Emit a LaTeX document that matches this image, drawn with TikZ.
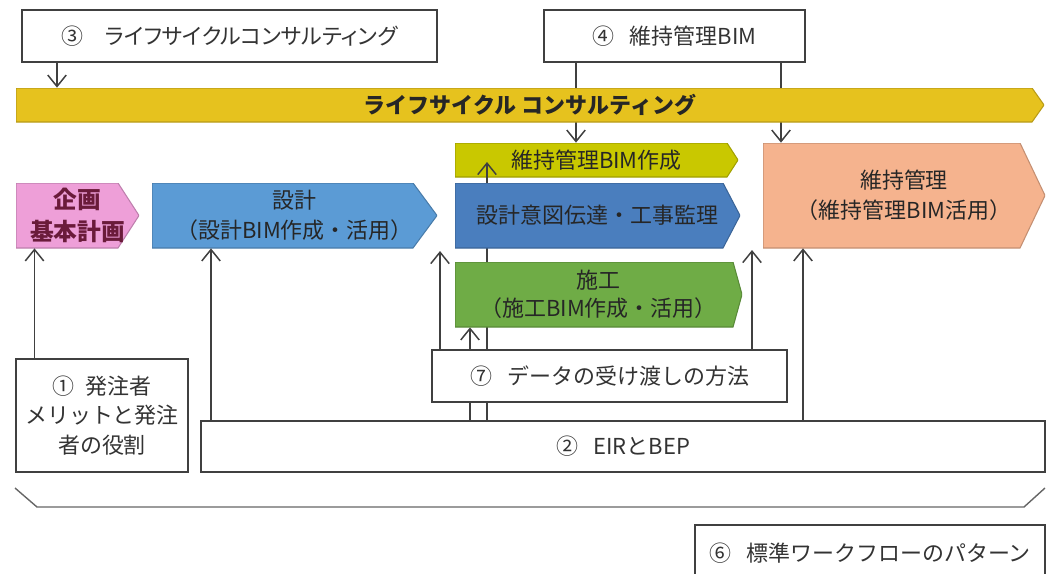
\documentclass[tikz,border=0pt]{standalone}
\usepackage{fontspec}
\setmainfont{Noto Sans CJK JP}
\newfontfamily\proporcional[RawFeature=+palt]{Noto Sans CJK JP}
\usetikzlibrary{arrows.meta}
\pgfdeclarelayer{fundo}
\pgfsetlayers{fundo,main}

\definecolor{amarelo}{HTML}{E6C21E}
\definecolor{oliva}{HTML}{C9C800}
\definecolor{rosa}{HTML}{EE9FD8}
\definecolor{azul}{HTML}{5B9BD5}
\definecolor{azulesc}{HTML}{4A7EBE}
\definecolor{verde}{HTML}{6FAC46}
\definecolor{salmao}{HTML}{F5B38E}
\definecolor{texto}{HTML}{333333}
\definecolor{borda}{HTML}{404040}
\definecolor{vinho}{HTML}{6A1B3A}

\begin{document}
\begin{tikzpicture}[
		caixa/.style={draw=borda, line width=1pt, fill=white, text=texto, align=center, inner sep=0pt},
		fase/.style 2 args={align=center, inner sep=0pt, text=black!85,
			path picture={\draw[draw=#1!80!black, fill=#1, line width=0.6pt]
				(path picture bounding box.north west) -- ([xshift=-#2]path picture bounding box.north east)
				-- (path picture bounding box.east) -- ([xshift=-#2]path picture bounding box.south east)
				-- (path picture bounding box.south west) -- cycle;}},
		seta/.style={draw=borda, line width=0.85pt, -{Straight Barb[length=6.5pt,width=10.5pt]}},
		linha/.style={draw=borda, line width=0.85pt},
		font=\fontsize{12.5}{17}\selectfont
	]
		\path[use as bounding box, clip] (0,0) rectangle (21.14,-11.46);

		% Caixas de cima
		\node[caixa, minimum width=8.3cm, minimum height=1.04cm] (c3) at (4.59,-0.72) {\proporcional ③\hspace{1em}ライフサイクルコンサルティング};
		\node[caixa, minimum width=5.22cm, minimum height=1.04cm] (c4) at (13.49,-0.72) {④\hspace{.7em}維持管理BIM};

		% Faixa amarela
		\node[fase={amarelo}{0.24cm}, minimum width=20.56cm, minimum height=0.68cm, font=\fontsize{12.5}{17}\selectfont\bfseries] (lc) at (10.6,-2.1) {ライフサイクル コンサルティング};

		% Fases
		\node[fase={rosa}{0.42cm}, minimum width=2.46cm, minimum height=1.3cm, text=vinho, font=\fontsize{13.5}{18}\selectfont\bfseries] (pk) at (1.55,-4.31) {企画\\基本計画};
		\node[fase={azul}{0.48cm}, minimum width=5.7cm, minimum height=1.3cm] (sk) at (5.89,-4.31) {設計\\（設計BIM作成・活用）};
		\node[fase={oliva}{0.22cm}, minimum width=5.66cm, minimum height=0.68cm] (mb) at (11.93,-3.2) {維持管理BIM作成};
		\node[fase={azulesc}{0.34cm}, minimum width=5.7cm, minimum height=1.3cm] (ki) at (11.95,-4.31) {設計意図伝達・工事監理};
		\node[fase={verde}{0.18cm}, minimum width=5.74cm, minimum height=1.3cm, font=\fontsize{12.5}{16}\selectfont] (sg) at (11.97,-5.89) {施工\\（施工BIM作成・活用）};
		\node[fase={salmao}{0.5cm}, minimum width=5.64cm, minimum height=2.1cm] (mt) at (18.08,-3.91) {維持管理\\（維持管理BIM活用）};

		% Caixas de baixo
		\node[caixa, minimum width=7.1cm, minimum height=1.04cm] (c7) at (12.19,-7.52) {⑦\hspace{.7em}データの受け渡しの方法};
		\node[caixa, minimum width=3.44cm, minimum height=2.26cm] (c1) at (2.04,-8.31) {①\hspace{.5em}発注者\\メリットと発注\\者の役割};
		\node[caixa, minimum width=16.88cm, minimum height=1.02cm] (c2) at (12.46,-8.93) {②\hspace{.7em}EIRとBEP};
		\node[caixa, minimum width=7cm, minimum height=1.12cm] (c6) at (17.4,-11.06) {⑥\hspace{.7em}標準ワークフローのパターン};

		% Pontos para as setas
		\coordinate (xa) at (0.69,0);
		\coordinate (xb) at (1.14,0);
		\coordinate (xc) at (4.22,0);
		\coordinate (xd) at (9.4,0);
		\coordinate (xe) at (9.74,0);
		\coordinate (xf) at (11.52,0);
		\coordinate (xg) at (15.62,0);
		\coordinate (xh) at (16.06,0);
		\coordinate (p1) at (8.8,-5.02);
		\coordinate (p2) at (15.04,-5.0);
		\coordinate (p3) at (9.74,-3.24);

		% Setas
		\draw[seta] (c3.south -| xb) -- (lc.north -| xb);
		\draw[seta] (c1.north -| xa) -- (pk.south -| xa);
		\draw[seta] (c2.north -| xc) -- (sk.south -| xc);
		\draw[seta] (c7.north -| p1) -- (p1);
		\draw[seta] (c7.north -| p2) -- (p2);
		\draw[seta] (c2.north -| xh) -- (mt.south -| xh);
		\draw[seta] (ki.north -| p3) -- (p3);
		\begin{pgfonlayer}{fundo}
			\draw[seta] (c4.south -| xf) -- (mb.north -| xf);
			\draw[seta] (c4.south -| xg) -- (mt.north -| xg);
			\draw[seta] (c2.north -| xd) -- (sg.south -| xd);
			\draw[linha] (c2.north -| xe) -- (ki.south -| xe);
		\end{pgfonlayer}

		% Chave
		\draw[draw=black!60, line width=0.8pt] (0.3,-9.76) -- (0.74,-10.14) -- (20.48,-10.14) -- (20.9,-9.76);
	\end{tikzpicture}
\end{document}
